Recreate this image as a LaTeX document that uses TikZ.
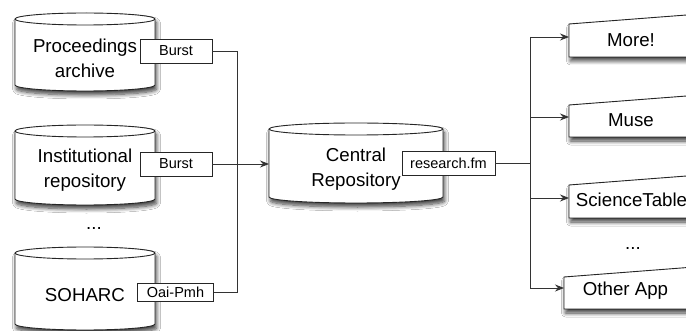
\documentclass[tikz,border=0pt]{standalone}
\usepackage{fontspec}
\setmainfont{Liberation Sans}
\usetikzlibrary{arrows.meta,shadows.blur}
\tikzset{
  conn/.style={draw=black!80, line width=0.9pt},
  arr/.style={conn, -{Stealth[length=9pt,width=7pt,inset=3pt]}},
  shapeline/.style={draw=black!85, line width=0.9pt},
  solid3d/.style={shapeline, fill=white, blur shadow={shadow xshift=1.5pt, shadow yshift=-4pt, shadow blur radius=4pt, shadow blur steps=8, shadow opacity=75}},
  bigtext/.style={font=\fontsize{18.7}{25}\selectfont, align=center, inner sep=0pt},
  lbl/.style={draw=black!85, line width=0.9pt, fill=white, font=\fontsize{14.5}{17}\selectfont, minimum height=24pt, inner sep=0pt},
}
\newcommand\mycyl[4]{%
  \path[solid3d] (#1-#2,-#3) -- (#1-#2,-#4) arc[start angle=180,end angle=360,x radius=#2pt,y radius=6pt] -- (#1+#2,-#3) arc[start angle=0,end angle=180,x radius=#2pt,y radius=6pt] -- cycle;
  \draw[shapeline] (#1-#2,-#3) arc[start angle=180,end angle=360,x radius=#2pt,y radius=6pt];
}
\begin{document}
\begin{tikzpicture}[x=1pt,y=1pt]
\clip (0,0) rectangle (686,-331);
\fill[white] (0,0) rectangle (686,-331);

% cylinders
\mycyl{85}{70}{19}{85}
\mycyl{85}{70}{131}{199}
\mycyl{85}{70}{253}{324}
\mycyl{356}{87}{129}{197}

\node[bigtext] (proc) at (85,-58) {Proceedings\\archive};
\node[bigtext] (inst) at (85,-170) {Institutional\\repository};
\node[bigtext] (soh) at (85,-295) {SOHARC};
\node[bigtext] (central) at (356,-169) {Central\\Repository};
\node[bigtext] (ldots) at (94,-229) {...};

% app boxes
\path[solid3d] (569,-24) -- (569,-57) -- (710,-57) -- (710,-13.2) -- cycle;
\path[solid3d] (569,-105) -- (569,-137) -- (710,-137) -- (710,-94.2) -- cycle;
\path[solid3d] (569,-185) -- (569,-218) -- (710,-218) -- (710,-174.2) -- cycle;
\path[solid3d] (564,-277) -- (564,-309) -- (710,-309) -- (710,-265.8) -- cycle;

\node[bigtext] (more) at (631,-40) {More!};
\node[bigtext] (muse) at (631,-120) {Muse};
\node[bigtext] (scitab) at (631.5,-200) {ScienceTable};
\node[bigtext] (rdots) at (633,-249) {...};
\node[bigtext] (other) at (625.5,-291) {Other App};

% label boxes
\node[lbl, minimum width=72pt] (b1) at (176,-51) {Burst};
\node[lbl, minimum width=72pt] (b2) at (176,-164) {Burst};
\node[lbl, minimum width=76pt, minimum height=18pt] (oai) at (175.5,-292.5) {Oai-Pmh};
\node[lbl, minimum width=93pt] (rfm) at (448.5,-163.5) {research.fm};

% left connectors
\coordinate (ljt) at (237,-51);
\coordinate (ljb) at (237,-292.5);
\coordinate (cin) at (269,-164);
\draw[conn] (b1.east) -- (ljt) -- (ljb) -- (oai.east);
\draw[arr] (b2.east) -- (cin);

% right connectors
\coordinate (rj) at (530,-163.5);
\coordinate (rt) at (530,-37);
\coordinate (rm) at (530,-117);
\coordinate (rs) at (530,-198);
\coordinate (rb) at (530,-288);
\coordinate (morein) at (569,-37);
\coordinate (musein) at (569,-117);
\coordinate (scin) at (569,-198);
\coordinate (othin) at (564,-288);
\draw[conn] (rfm.east) -- (rj);
\draw[conn] (rt) -- (rb);
\draw[arr] (rt) -- (morein);
\draw[arr] (rm) -- (musein);
\draw[arr] (rs) -- (scin);
\draw[arr] (rb) -- (othin);
\end{tikzpicture}
\end{document}
